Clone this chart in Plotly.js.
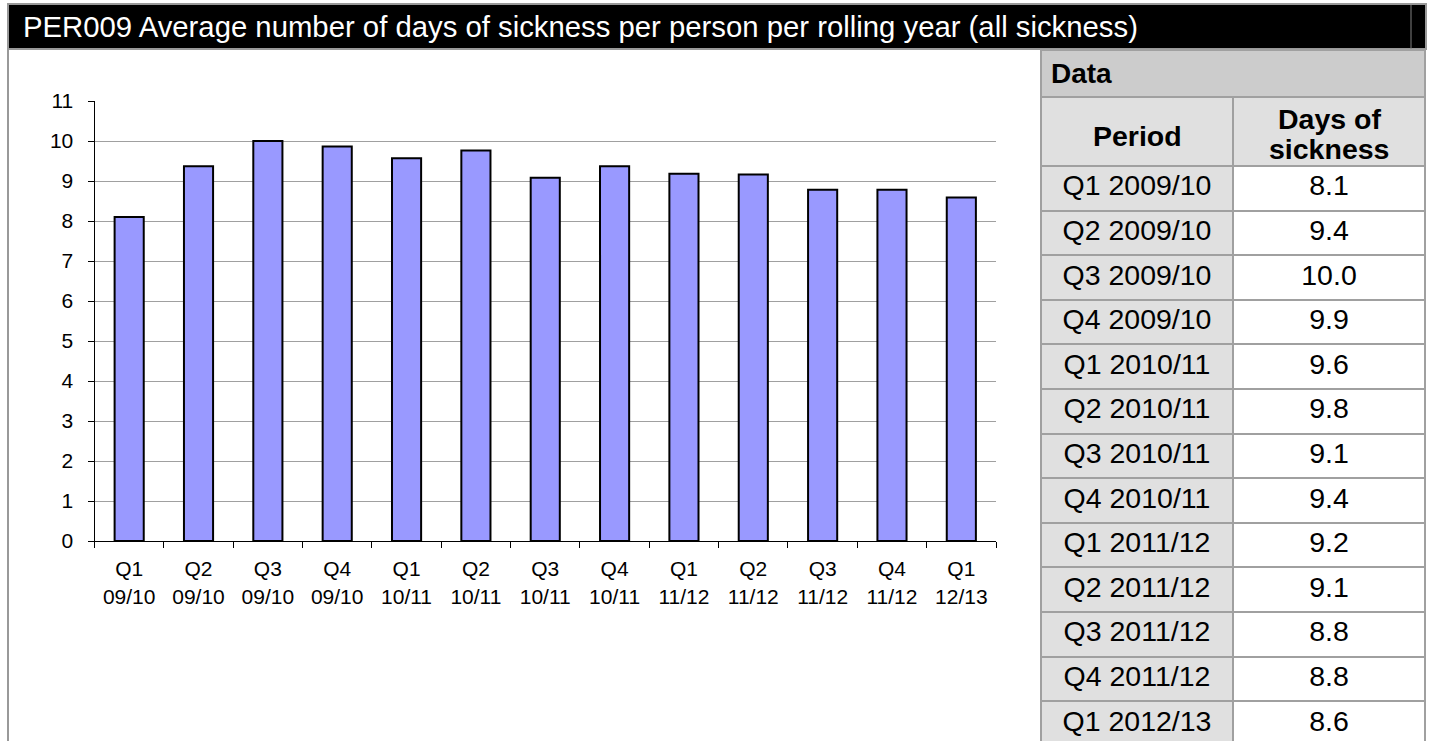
<!DOCTYPE html>
<html><head><meta charset="utf-8">
<script src="https://cdn.plot.ly/plotly-3.0.1.min.js"></script>
<style>html,body{margin:0;padding:0;overflow:hidden;background:#fff}#chart{width:1429px;height:780px}</style>
</head><body><div id="chart"></div>
<script>
// ---- data ----
const categories = ['Q1<br>09/10','Q2<br>09/10','Q3<br>09/10','Q4<br>09/10','Q1<br>10/11','Q2<br>10/11','Q3<br>10/11','Q4<br>10/11','Q1<br>11/12','Q2<br>11/12','Q3<br>11/12','Q4<br>11/12','Q1<br>12/13'];
const chartValues = [8.1, 9.37, 10.0, 9.86, 9.57, 9.76, 9.08, 9.37, 9.18, 9.16, 8.78, 8.78, 8.59];
const periods = ['Q1 2009/10','Q2 2009/10','Q3 2009/10','Q4 2009/10','Q1 2010/11','Q2 2010/11','Q3 2010/11','Q4 2010/11','Q1 2011/12','Q2 2011/12','Q3 2011/12','Q4 2011/12','Q1 2012/13'];
const tableValues = [8.1, 9.4, 10.0, 9.9, 9.6, 9.8, 9.1, 9.4, 9.2, 9.1, 8.8, 8.8, 8.6];
const headerPeriod = 'Period';
const headerDays = ['Days of', 'sickness'];
const titleText = 'PER009 Average number of days of sickness per person per rolling year (all sickness)';
const tableTitle = 'Data';

// ---- layout helpers ----
const W = 1429, H = 780;
const px = x => x / W;
const py = y => 1 - y / H;
const FONT = 'Liberation Sans, Arial, sans-serif';

const bars = {
  type: 'bar', x: categories, y: chartValues,
  marker: {color: '#9999ff', line: {color: '#000000', width: 2}},
  xaxis: 'x', yaxis: 'y', hoverinfo: 'x+y'
};

const table = {
  type: 'table',
  domain: {x: [px(1041), px(1425)], y: [0, py(97)]},
  columnwidth: [1, 1],
  header: {
    values: ['', ''],
    align: 'center', height: 69,
    fill: {color: '#e0e0e0'},
    line: {color: '#a0a0a0', width: 2},
    font: {family: FONT, size: 12, color: '#000'}
  },
  cells: {
    values: [periods, tableValues],
    format: ['', '.1f'],
    align: 'center', height: 44.6,
    fill: {color: ['#e0e0e0', '#ffffff']},
    line: {color: '#a0a0a0', width: 2},
    font: {family: FONT, size: 28.5, color: '#000'}
  }
};

const hdrFont = {family: FONT, size: 28.5, color: '#000'};
const annotations = [
  {xref: 'paper', yref: 'paper', x: px(21), y: py(27), xanchor: 'left', yanchor: 'middle',
   text: titleText, showarrow: false, font: {family: FONT, size: 29.3, color: '#ffffff'}},
  {xref: 'paper', yref: 'paper', x: px(1049), y: py(73), xanchor: 'left', yanchor: 'middle',
   text: '<b>' + tableTitle + '</b>', showarrow: false, font: {family: FONT, size: 28, color: '#000'}},
  {xref: 'paper', yref: 'paper', x: px(1137), y: py(136), xanchor: 'center', yanchor: 'middle',
   text: '<b>' + headerPeriod + '</b>', showarrow: false, font: hdrFont}
];
headerDays.forEach((t, i) => annotations.push(
  {xref: 'paper', yref: 'paper', x: px(1329), y: py(119 + 30 * i), xanchor: 'center', yanchor: 'middle',
   text: '<b>' + t + '</b>', showarrow: false, font: hdrFont}));

const layout = {
  width: W, height: H,
  margin: {l: 0, r: 0, t: 0, b: 0},
  paper_bgcolor: '#ffffff', plot_bgcolor: '#ffffff',
  showlegend: false,
  font: {family: FONT, color: '#000'},
  bargap: 0.58,
  xaxis: {
    domain: [px(94.5), px(996)],
    type: 'category',
    showline: true, linecolor: '#000', linewidth: 1,
    ticks: 'outside', ticklen: 6, tickcolor: '#000', tickson: 'boundaries',
    tickfont: {family: FONT, size: 21, color: '#000'},
    ticklabelstandoff: 9,
    showgrid: false, zeroline: false, fixedrange: true
  },
  yaxis: {
    domain: [py(541), py(101)],
    range: [0, 11], dtick: 1, tick0: 0,
    showline: true, linecolor: '#000', linewidth: 1,
    ticks: 'outside', ticklen: 6, tickcolor: '#000',
    tickfont: {family: FONT, size: 21, color: '#000'},
    ticklabelstandoff: 10,
    showgrid: true, gridcolor: '#a0a0a0', gridwidth: 1,
    zeroline: false, fixedrange: true
  },
  shapes: [
    {type: 'rect', xref: 'paper', yref: 'paper', x0: px(8), x1: px(1426), y0: py(49), y1: py(4),
     fillcolor: '#000000', line: {color: '#999999', width: 2}},
    {type: 'line', xref: 'paper', yref: 'paper', x0: px(1411), x1: px(1411), y0: py(49), y1: py(5),
     line: {color: '#808080', width: 1}},
    {type: 'line', xref: 'paper', yref: 'paper', x0: px(8), x1: px(8), y0: 0, y1: py(49),
     line: {color: '#999999', width: 2}},
    {type: 'rect', xref: 'paper', yref: 'paper', x0: px(1041), x1: px(1425), y0: py(97), y1: py(50),
     fillcolor: '#cccccc', line: {color: '#a0a0a0', width: 2}}
  ],
  annotations: annotations
};

Plotly.newPlot('chart', [bars, table], layout, {displayModeBar: false, staticPlot: true});
</script>
</body></html>
